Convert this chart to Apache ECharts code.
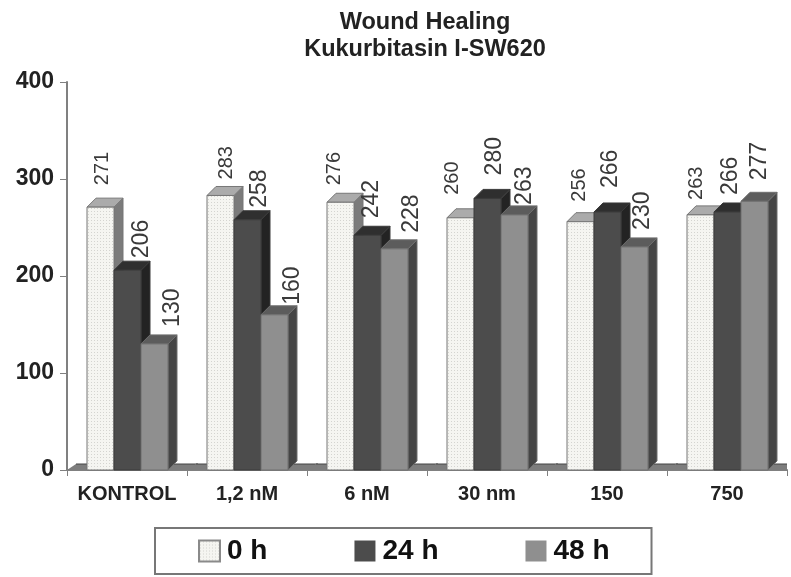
<!DOCTYPE html>
<html>
<head>
<meta charset="utf-8">
<title>Wound Healing</title>
<script src="https://cdn.jsdelivr.net/npm/echarts@6/dist/echarts.min.js"></script>
<style>
html, body { margin: 0; padding: 0; background: #fff; }
#chart { width: 791px; height: 577px; filter: blur(0.6px); }
</style>
</head>
<body>
<div id="chart"></div>
<script>
// values
var categories = ['KONTROL', '1,2 nM', '6 nM', '30 nm', '150', '750'];
var tickLabels = [0, 100, 200, 300, 400];
var h0 = [271, 283, 276, 260, 256, 263];
var h24 = [206, 258, 242, 280, 266, 266];
var h48 = [130, 160, 228, 263, 230, 277];

// the value labels sit unevenly in the original, so each one gets its own nudge
var nudgeX0 = [2, 6, -6, -8, -1, -4];
var nudgeY0 = [22, 16, 17, 23, 20, 15];
var nudgeX24 = [14, 12, 4, 7, 3, 3];
var nudgeY24 = [12, 12, 17, 23, 24, 17];
var nudgeX48 = [18, 18, 17, 10, 8, 5];
var nudgeY48 = [17, 10, 16, 10, 17, 21];

var fontName = '"Liberation Sans", Arial, sans-serif';
var depthX = 9, depthY = 9;

// dotted fill of the 0 h bars
var dots = document.createElement('canvas');
dots.width = 3;
dots.height = 3;
var dc = dots.getContext('2d');
dc.fillStyle = '#f5f5f1';
dc.fillRect(0, 0, 3, 3);
dc.fillStyle = '#d4d4d0';
dc.fillRect(1, 1, 1, 1);
var dotFill = { image: dots, repeat: 'repeat' };

// one 3d looking bar, index = 0,1,2 inside the category
function barItem(index, s) {
    return function (params, api) {
        var p = api.coord([api.value(0), api.value(1)]);
        var base = api.coord([api.value(0), 0]);
        var band = api.size([1, 0])[0];
        var w = band * 0.225;
        var x0 = p[0] - w * 1.5 + w * index + 0.5;
        var x1 = x0 + w;
        var y0 = p[1];
        var y1 = base[1];
        var i = params.dataIndex;
        return {
            type: 'group',
            children: [
                { type: 'polygon', shape: { points: [[x1, y0], [x1 + depthX, y0 - depthY], [x1 + depthX, y1 - depthY], [x1, y1]] },
                  style: { fill: s.side, stroke: s.edge, lineWidth: 1 } },
                { type: 'polygon', shape: { points: [[x0, y0], [x0 + depthX, y0 - depthY], [x1 + depthX, y0 - depthY], [x1, y0]] },
                  style: { fill: s.top, stroke: s.edge, lineWidth: 1 } },
                { type: 'rect', shape: { x: x0, y: y0, width: w, height: y1 - y0 },
                  style: { fill: api.visual('color'), stroke: s.edge, lineWidth: 1 } },
                { type: 'text', x: x0 + w / 2 + s.dx[i], y: y0 - s.gap[i], rotation: Math.PI / 2,
                  style: { text: String(api.value(1)), align: 'left', verticalAlign: 'middle',
                           font: s.size + 'px ' + fontName, fill: '#3a3a3a' } }
            ]
        };
    };
}

// grey floor below the bars
function floorItem(params, api) {
    var p = api.coord([api.value(0), 0]);
    var band = api.size([1, 0])[0];
    var right = params.coordSys.x + params.coordSys.width;
    var x0 = p[0] - band / 2, x1 = p[0] + band / 2, y = p[1];
    // +2 so neighbours overlap and no seam shows
    var backEnd = Math.min(x1 + depthX + 2, right);
    var frontEnd = Math.min(x1 + 2, right);
    return {
        type: 'group',
        children: [
            { type: 'polygon', shape: { points: [[x0, y], [x0 + depthX, y - 6], [backEnd, y - 6], [frontEnd, y]] },
              style: { fill: '#7d7d7d' } },
            { type: 'line', shape: { x1: x0 + depthX, y1: y - 6, x2: backEnd, y2: y - 6 },
              style: { stroke: '#444', lineWidth: 1 } }
        ]
    };
}

function makeData(values) {
    return values.map(function (v, i) { return [i, v]; });
}

var myChart = echarts.init(document.getElementById('chart'));

var option = {
    animation: false,
    backgroundColor: '#fff',
    title: {
        text: 'Wound Healing\nKukurbitasin I-SW620',
        left: 420,
        top: 4,
        textAlign: 'center',
        textStyle: { fontFamily: fontName, fontSize: 23.5, fontWeight: 'bold', color: '#222', lineHeight: 27 }
    },
    legend: {
        data: ['0 h', '24 h', '48 h'],
        left: 155,
        top: 528,
        orient: 'horizontal',
        padding: [9, 42, 9, 43],
        itemWidth: 21,
        itemHeight: 21,
        itemGap: 87,
        icon: 'rect',
        borderColor: '#777',
        borderWidth: 2,
        selectedMode: false,
        textStyle: { fontFamily: fontName, fontSize: 28, fontWeight: 'bold', color: '#111', padding: [0, 0, 0, 2] }
    },
    grid: { left: 67, right: 4, top: 82, bottom: 107 },
    xAxis: {
        type: 'category',
        data: categories,
        axisLine: { lineStyle: { color: '#808080', width: 2 } },
        axisTick: { show: true, interval: 0, length: 6, lineStyle: { color: '#808080' } },
        axisLabel: { interval: 0, fontFamily: fontName, fontSize: 20, fontWeight: 'bold', color: '#222', margin: 14 }
    },
    yAxis: {
        type: 'value',
        min: tickLabels[0],
        max: tickLabels[tickLabels.length - 1],
        interval: 100,
        splitLine: { show: false },
        axisLine: { show: true, lineStyle: { color: '#808080', width: 2 } },
        axisTick: { show: true, length: 7, lineStyle: { color: '#808080' } },
        axisLabel: { fontFamily: fontName, fontSize: 23, fontWeight: 'bold', color: '#222', margin: 13 }
    },
    series: [
        { name: 'floor', type: 'custom', renderItem: floorItem, data: makeData(h0), silent: true,
          encode: { x: 0, y: 1 } },
        { name: '0 h', type: 'custom', data: makeData(h0), encode: { x: 0, y: 1 },
          itemStyle: { color: dotFill, borderColor: '#8a8a8a', borderWidth: 1 },
          renderItem: barItem(0, { top: '#ababab', side: '#7b7b7b', edge: '#777', dx: nudgeX0, gap: nudgeY0, size: 20 }) },
        { name: '24 h', type: 'custom', data: makeData(h24), encode: { x: 0, y: 1 },
          itemStyle: { color: '#4c4c4c' },
          renderItem: barItem(1, { top: '#2f2f2f', side: '#232323', edge: '#3a3a3a', dx: nudgeX24, gap: nudgeY24, size: 23 }) },
        { name: '48 h', type: 'custom', data: makeData(h48), encode: { x: 0, y: 1 },
          itemStyle: { color: '#8f8f8f' },
          renderItem: barItem(2, { top: '#5c5c5c', side: '#454545', edge: '#6e6e6e', dx: nudgeX48, gap: nudgeY48, size: 23 }) }
    ]
};

myChart.setOption(option);
</script>
</body>
</html>
